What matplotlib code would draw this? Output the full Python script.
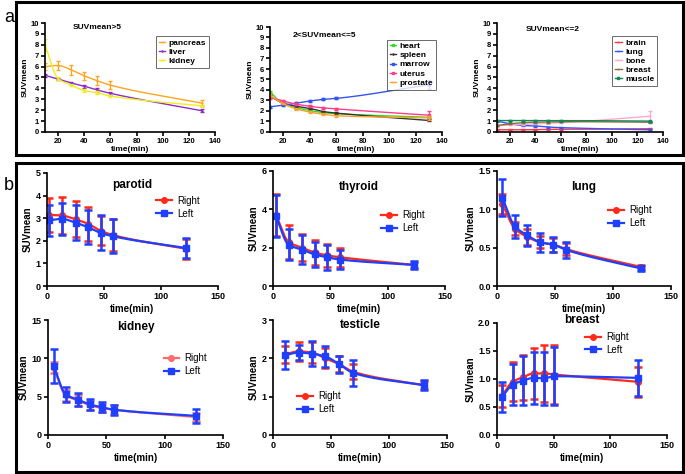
import numpy as np
import matplotlib
matplotlib.use('Agg')
import matplotlib.pyplot as plt
from matplotlib.patches import Rectangle

plt.rcParams['font.family'] = ['Liberation Sans', 'DejaVu Sans']

# ---- panel a data (time points in minutes) ----
t_a = [10, 20, 30, 40, 50, 60, 130]

pancreas = [6.0, 6.1, 5.7, 5.15, 4.7, 4.3, 2.65]
pancreas_err = [0.3, 0.45, 0.45, 0.4, 0.4, 0.4, 0.25]
liver = [5.2, 4.85, 4.5, 4.2, 3.85, 3.55, 1.95]
liver_err = [0.15, 0.12, 0.12, 0.15, 0.15, 0.15, 0.12]
kidney_a = [8.0, 4.9, 4.3, 3.8, 3.6, 3.3, 2.4]
kidney_a_err = [0.55, 0.15, 0.12, 0.12, 0.12, 0.12, 0.12]

heart = [3.85, 2.65, 2.3, 2.05, 1.85, 1.75, 1.4]
heart_err = [0.1, 0.08, 0.08, 0.08, 0.08, 0.08, 0.1]
spleen = [3.4, 2.75, 2.45, 2.25, 1.95, 1.8, 1.1]
spleen_err = [0.1, 0.08, 0.08, 0.08, 0.08, 0.08, 0.1]
marrow = [2.4, 2.55, 2.75, 2.95, 3.1, 3.2, 4.5]
marrow_err = [0.08, 0.08, 0.1, 0.1, 0.1, 0.1, 0.45]
uterus = [3.3, 2.95, 2.65, 2.45, 2.3, 2.2, 1.6]
uterus_err = [0.15, 0.1, 0.1, 0.1, 0.12, 0.12, 0.4]
prostate = [3.5, 2.7, 2.2, 1.9, 1.7, 1.55, 1.35]
prostate_err = [0.1, 0.08, 0.08, 0.08, 0.08, 0.08, 0.2]

brain = [0.2, 0.2, 0.2, 0.22, 0.25, 0.25, 0.3]
brain_err = [0.05] * 7
lung_a = [1.0, 0.75, 0.6, 0.55, 0.45, 0.4, 0.2]
lung_a_err = [0.05] * 7
bone = [0.55, 0.65, 0.7, 0.75, 0.8, 0.85, 1.45]
bone_err = [0.05, 0.05, 0.05, 0.05, 0.05, 0.05, 0.45]
breast_a = [0.6, 0.75, 0.85, 0.9, 0.92, 0.95, 0.9]
breast_a_err = [0.05] * 7
muscle = [1.05, 1.05, 1.05, 1.05, 1.05, 1.05, 1.0]
muscle_err = [0.05] * 7

# ---- panel b data: Right / Left ----
parotid_t = [1.5, 13, 25, 36, 47, 58, 122]
parotid_r = [3.15, 3.12, 2.95, 2.75, 2.45, 2.25, 1.65]
parotid_r_err = [0.75, 0.8, 0.8, 0.75, 0.65, 0.72, 0.45]
parotid_l = [2.9, 2.97, 2.8, 2.6, 2.35, 2.2, 1.68]
parotid_l_err = [0.68, 0.7, 0.78, 0.75, 0.77, 0.75, 0.44]

thyroid_t = [2.6, 13.6, 25.2, 36.3, 47, 58.6, 123]
thyroid_r = [3.7, 2.3, 2.0, 1.75, 1.6, 1.5, 1.1]
thyroid_r_err = [1.1, 0.87, 0.72, 0.67, 0.6, 0.5, 0.17]
thyroid_l = [3.65, 2.15, 1.9, 1.65, 1.5, 1.38, 1.1]
thyroid_l_err = [1.1, 0.8, 0.75, 0.65, 0.64, 0.5, 0.2]

lung_t = [4.6, 15.3, 26.2, 37.4, 48.4, 59.9, 123.8]
lung_r = [1.07, 0.75, 0.64, 0.57, 0.54, 0.48, 0.25]
lung_r_err = [0.13, 0.09, 0.1, 0.08, 0.09, 0.08, 0.03]
lung_l = [1.15, 0.78, 0.66, 0.57, 0.54, 0.47, 0.23]
lung_l_err = [0.24, 0.15, 0.14, 0.12, 0.1, 0.1, 0.03]

kidney_t = [4.9, 15.1, 25.7, 35.7, 46.6, 56.6, 126.6]
kidney_r = [8.8, 5.2, 4.5, 3.9, 3.5, 3.3, 2.35]
kidney_r_err = [0.7, 0.7, 0.7, 0.6, 0.55, 0.6, 0.55]
kidney_l = [9.0, 5.3, 4.6, 4.0, 3.6, 3.3, 2.5]
kidney_l_err = [2.25, 1.0, 0.85, 0.75, 0.65, 0.65, 0.9]

testicle_t = [10, 22, 33.6, 45, 57, 69, 130]
testicle_r = [2.1, 2.18, 2.15, 2.0, 1.85, 1.65, 1.3]
testicle_r_err = [0.22, 0.25, 0.27, 0.26, 0.2, 0.2, 0.1]
testicle_l = [2.08, 2.15, 2.12, 2.05, 1.85, 1.62, 1.3]
testicle_l_err = [0.37, 0.2, 0.33, 0.28, 0.22, 0.33, 0.13]

breast_t = [4.4, 13.8, 22.9, 32.4, 41.2, 50.6, 124.4]
breast_r = [0.7, 0.95, 1.03, 1.1, 1.1, 1.08, 0.95]
breast_r_err = [0.2, 0.35, 0.4, 0.45, 0.51, 0.52, 0.27]
breast_l = [0.68, 0.9, 0.97, 1.02, 1.01, 1.05, 1.02]
breast_l_err = [0.27, 0.37, 0.44, 0.47, 0.47, 0.52, 0.32]


def smooth(x, y, n=200):
    """Monotone cubic (PCHIP style) curve through the points."""
    x = np.asarray(x, float)
    y = np.asarray(y, float)
    h = np.diff(x)
    d = np.diff(y) / h
    m = np.zeros_like(y)
    for k in range(1, len(x) - 1):
        if d[k - 1] * d[k] > 0:
            w1 = 2 * h[k] + h[k - 1]
            w2 = h[k] + 2 * h[k - 1]
            m[k] = (w1 + w2) / (w1 / d[k - 1] + w2 / d[k])
    m[0] = d[0]
    m[-1] = d[-1]
    xs = np.linspace(x[0], x[-1], n)
    idx = np.clip(np.searchsorted(x, xs) - 1, 0, len(x) - 2)
    t = (xs - x[idx]) / h[idx]
    h00 = 2 * t ** 3 - 3 * t ** 2 + 1
    h10 = t ** 3 - 2 * t ** 2 + t
    h01 = -2 * t ** 3 + 3 * t ** 2
    h11 = t ** 3 - t ** 2
    ys = h00 * y[idx] + h10 * h[idx] * m[idx] + h01 * y[idx + 1] + h11 * h[idx] * m[idx + 1]
    return xs, ys


fig = plt.figure(figsize=(6.85, 4.74), dpi=100)
W, H = 685.0, 474.0


def add_ax(left, right, top, bottom):
    return fig.add_axes([left / W, 1 - bottom / H, (right - left) / W, (bottom - top) / H])


def style(ax, fs):
    for s in ['top', 'right']:
        ax.spines[s].set_visible(False)
    for s in ['left', 'bottom']:
        ax.spines[s].set_linewidth(1.2)
    ax.tick_params(width=1.2, length=3, labelsize=fs, pad=1.5)
    for lab in ax.get_xticklabels() + ax.get_yticklabels():
        lab.set_fontweight('bold')


# ---- panel a ----
a_specs = [
    ((45, 215, 23, 132), 'SUVmean>5', (50, 9.9),
     [('pancreas', pancreas, pancreas_err, '#FFA41F', '_'),
      ('liver', liver, liver_err, '#8E2CC4', '+'),
      ('kidney', kidney_a, kidney_a_err, '#EEEE20', '+')]),
    ((270, 442, 27, 132), '2<SUVmean<=5', (51, 9.5),
     [('heart', heart, heart_err, '#33DD22', 's'),
      ('spleen', spleen, spleen_err, '#333333', '+'),
      ('marrow', marrow, marrow_err, '#3355EE', 's'),
      ('uterus', uterus, uterus_err, '#FF3D8B', 's'),
      ('prostate', prostate, prostate_err, '#FFA030', '_')]),
    ((497, 663, 23, 132), 'SUVmean<=2', (54, 9.7),
     [('brain', brain, brain_err, '#FF3344', '_'),
      ('lung', lung_a, lung_a_err, '#3355FF', '_'),
      ('bone', bone, bone_err, '#FFAACC', '_'),
      ('breast', breast_a, breast_a_err, '#8B6A3A', '_'),
      ('muscle', muscle, muscle_err, '#118855', 's')]),
]

for box, title, tpos, series in a_specs:
    ax = add_ax(*box)
    for name, vals, err, col, mk in series:
        xs, ys = smooth(t_a, vals)
        ax.plot(xs, ys, color=col, lw=1.0)
        ax.errorbar(t_a, vals, yerr=err, fmt='none', ecolor=col, elinewidth=0.9, capsize=1.5)
        ax.plot(t_a, vals, ls='none', marker=mk, color=col, ms=2.0, mew=1)
        ax.plot([], [], color=col, lw=1.0, marker=mk, ms=2.0, label=name)
    ax.set_xlim(10, 140)
    ax.set_ylim(0, 10)
    ax.set_xticks(range(20, 141, 20))
    ax.set_yticks(range(0, 11))
    style(ax, 5.5)
    ax.set_xlabel('time(min)', fontsize=6, fontweight='bold', labelpad=0.5)
    ax.set_ylabel('SUVmean', fontsize=6, fontweight='bold', labelpad=1)
    ax.text(tpos[0], tpos[1], title, fontsize=6, fontweight='bold', ha='center', va='top')
    leg = ax.legend(loc='upper right', bbox_to_anchor=(0.99, 0.92),
                    handlelength=0.8, handletextpad=0.4, borderpad=0.35,
                    labelspacing=0.15, fancybox=False, prop={'weight': 'bold', 'size': 6})
    leg.get_frame().set_edgecolor('#444444')
    leg.get_frame().set_linewidth(0.7)

# ---- panel b ----
RED = '#FF2A1A'
BLUE = '#1F3FFF'
b_specs = [
    ((47, 218, 173, 286), 'parotid', 0.89, parotid_t, parotid_r, parotid_r_err,
     parotid_l, parotid_l_err, (0, 5), [0, 1, 2, 3, 4, 5], None, (0.64, 0.8), RED),
    ((273, 445, 171, 286), 'thyroid', 0.86, thyroid_t, thyroid_r, thyroid_r_err,
     thyroid_l, thyroid_l_err, (0, 6), [0, 2, 4, 6], None, (0.63, 0.66), RED),
    ((497, 671, 171, 286), 'lung', 0.86, lung_t, lung_r, lung_r_err,
     lung_l, lung_l_err, (0, 1.5), [0, 0.5, 1.0, 1.5], '%.1f', (0.64, 0.7), RED),
    ((48, 223, 320, 435), 'kidney', 0.94, kidney_t, kidney_r, kidney_r_err,
     kidney_l, kidney_l_err, (0, 15), [0, 5, 10, 15], None, (0.66, 0.71), '#FF6A6A'),
    ((273, 447, 320, 435), 'testicle', 0.96, testicle_t, testicle_r, testicle_r_err,
     testicle_l, testicle_l_err, (0, 3), [0, 1, 2, 3], None, (0.14, 0.38), RED),
    ((497, 667, 323, 435), 'breast', 1.03, breast_t, breast_r, breast_r_err,
     breast_l, breast_l_err, (0, 2.0), [0, 0.5, 1.0, 1.5, 2.0], '%.1f', (0.52, 0.92), RED),
]

for (box, title, ty, tt, r, r_err, l, l_err, ylim, yticks, yfmt, legpos, rcol) in b_specs:
    ax = add_ax(*box)
    for vals, err, col, mk in [(r, r_err, rcol, 'o'), (l, l_err, BLUE, 's')]:
        xs, ys = smooth(tt, vals)
        ax.plot(xs, ys, color=col, lw=1.6)
        ax.errorbar(tt, vals, yerr=err, fmt='none', ecolor=col, elinewidth=1.8,
                    capsize=3.2, capthick=1.8)
        ax.plot(tt, vals, ls='none', marker=mk, color=col, ms=4)
    ax.plot([], [], color=rcol, lw=1.6, marker='o', ms=4, label='Right')
    ax.plot([], [], color=BLUE, lw=1.6, marker='s', ms=4, label='Left')
    ax.set_xlim(0, 150)
    ax.set_ylim(*ylim)
    ax.set_xticks([0, 50, 100, 150])
    ax.set_yticks(yticks)
    if yfmt:
        ax.set_yticklabels([yfmt % v for v in yticks])
    else:
        ax.set_yticklabels([str(int(v)) for v in yticks])
    style(ax, 6.5)
    ax.set_xlabel('time(min)', fontsize=7, fontweight='bold', labelpad=2)
    ax.set_ylabel('SUVmean', fontsize=7, fontweight='bold', labelpad=2)
    ax.text(0.5, ty, title, transform=ax.transAxes, fontsize=8.5, fontweight='bold',
            ha='center', va='center')
    ax.legend(loc='upper left', bbox_to_anchor=legpos, frameon=False, fontsize=7,
              handlelength=1.6, handletextpad=0.5, borderpad=0, borderaxespad=0,
              labelspacing=0.3)

# panel frames and letters
fig.patches.append(Rectangle((16 / W, 1 - 155 / H), (683 - 16) / W, 153 / H,
                             transform=fig.transFigure, fill=False, lw=2.2, ec='black'))
fig.patches.append(Rectangle((16 / W, 1 - 472 / H), (683 - 16) / W, (472 - 163) / H,
                             transform=fig.transFigure, fill=False, lw=2.2, ec='black'))
fig.text(4 / W, 1 - 18 / H, 'a', fontsize=13, va='center', ha='left')
fig.text(4 / W, 1 - 185 / H, 'b', fontsize=13, va='center', ha='left')

fig.savefig('out.png', dpi=100)
